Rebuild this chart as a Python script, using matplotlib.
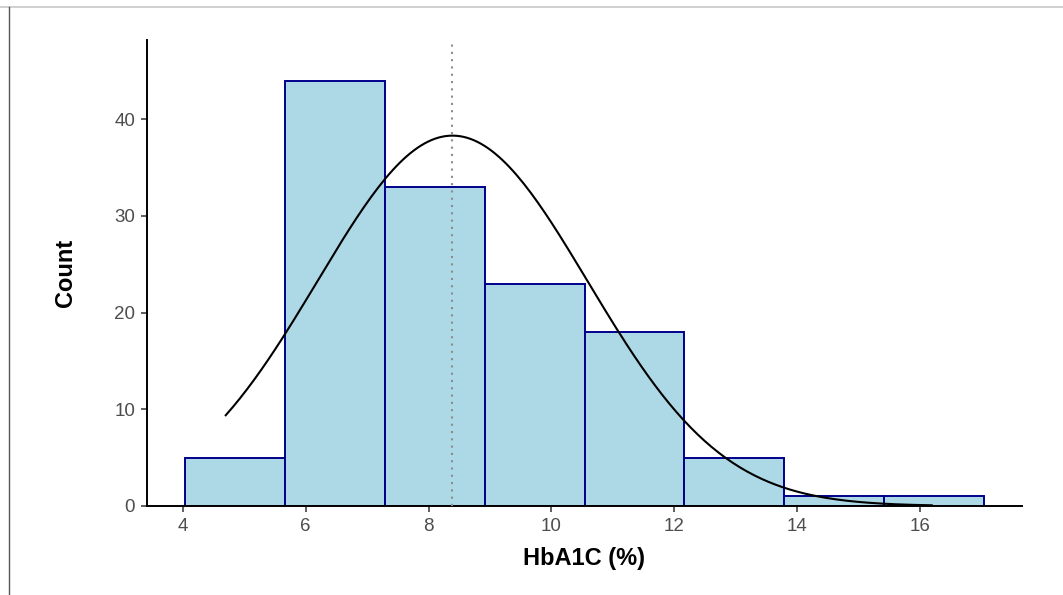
import matplotlib.pyplot as plt
import numpy as np
from matplotlib.lines import Line2D

plt.rcParams['font.family'] = ['Liberation Sans', 'DejaVu Sans']

# histogram bins
bin_edges = [4.04, 5.665, 7.29, 8.915, 10.54, 12.165, 13.79, 15.415, 17.04]
counts = [5, 44, 33, 23, 18, 5, 1, 1]

# fitted normal overlay
mean_hba1c = 8.39
sd_hba1c = 2.2
n_total = sum(counts)
curve_from, curve_to = 4.7, 16.19

x_ticks = [4, 6, 8, 10, 12, 14, 16]
y_ticks = [0, 10, 20, 30, 40]

fig = plt.figure(figsize=(10.63, 5.95), dpi=100)
ax = fig.add_axes([0.138, 0.1496, 0.823, 0.7832])

edges = np.array(bin_edges)
widths = np.diff(edges)
ax.bar(edges[:-1], counts, width=widths, align='edge', color='#ADD8E6',
       edgecolor='#00008B', linewidth=1.4, zorder=2)

# normal density scaled to counts
bw = widths.mean()
xs = np.linspace(curve_from, curve_to, 200)
ys = n_total * bw / (sd_hba1c * np.sqrt(2 * np.pi)) * np.exp(-0.5 * ((xs - mean_hba1c) / sd_hba1c) ** 2)
ax.plot(xs, ys, color='black', linewidth=1.5, zorder=3)

ax.axvline(mean_hba1c, color='#8c8c8c', linestyle=(0, (1, 2.5)), linewidth=1.5, zorder=4)

ax.set_xlim(3.414, 17.65)
ax.set_ylim(0, 48.2)
ax.set_xticks(x_ticks)
ax.set_yticks(y_ticks)
for s in ['top', 'right']:
    ax.spines[s].set_visible(False)
for s in ['left', 'bottom']:
    ax.spines[s].set_linewidth(1.4)
    ax.spines[s].set_color('black')
ax.tick_params(axis='both', length=4.3, width=1.1, color='#333333',
               labelcolor='#4D4D4D', labelsize=13.5, pad=4)

ax.set_xlabel('HbA1C (%)', fontsize=17, fontweight='bold', labelpad=9)
ax.set_ylabel('Count', fontsize=17, fontweight='bold', labelpad=27)

# thin frame lines on the top and left of the image
fig.add_artist(Line2D([0, 1], [1 - 6.5 / 595] * 2, transform=fig.transFigure,
                      color='#c8c8c8', linewidth=1.2))
fig.add_artist(Line2D([8.5 / 1063] * 2, [0, 1 - 6.5 / 595], transform=fig.transFigure,
                      color='#555555', linewidth=1.0))

fig.savefig('out.png', dpi=100)
